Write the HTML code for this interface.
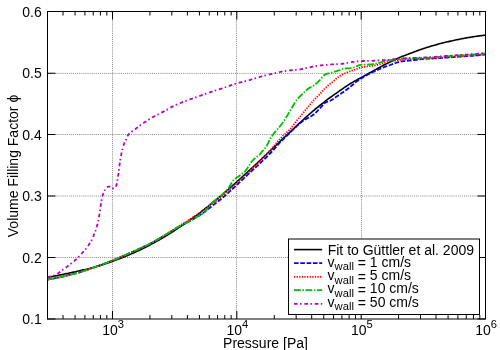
<!DOCTYPE html>
<html><head><meta charset="utf-8">
<style>
html,body{margin:0;padding:0;background:#fff;}
body{width:500px;height:350px;overflow:hidden;position:relative;}
svg{display:block;position:absolute;left:0;top:0;}
svg.t{will-change:transform;}
text{font-family:"Liberation Sans",sans-serif;font-size:14px;fill:#000;}
</style></head><body>
<svg width="500" height="350" viewBox="0 0 500 350">
<rect width="500" height="350" fill="#fff"/>
<g stroke="#888" stroke-width="1" stroke-dasharray="1 1.08" fill="none">
<line x1="48.0" y1="257.50" x2="485.5" y2="257.50"/>
<line x1="48.0" y1="196.00" x2="485.5" y2="196.00"/>
<line x1="48.0" y1="134.50" x2="485.5" y2="134.50"/>
<line x1="48.0" y1="73.40" x2="485.5" y2="73.40"/>
<line x1="112.50" y1="12.0" x2="112.50" y2="319.0"/>
<line x1="236.50" y1="12.0" x2="236.50" y2="319.0"/>
<line x1="361.50" y1="12.0" x2="361.50" y2="319.0"/>
</g>
<g stroke="#000" stroke-width="1" fill="none">
<line x1="47.5" y1="319.00" x2="55.5" y2="319.00"/>
<line x1="485.5" y1="319.00" x2="477.5" y2="319.00"/>
<line x1="47.5" y1="257.50" x2="55.5" y2="257.50"/>
<line x1="485.5" y1="257.50" x2="477.5" y2="257.50"/>
<line x1="47.5" y1="196.00" x2="55.5" y2="196.00"/>
<line x1="485.5" y1="196.00" x2="477.5" y2="196.00"/>
<line x1="47.5" y1="134.50" x2="55.5" y2="134.50"/>
<line x1="485.5" y1="134.50" x2="477.5" y2="134.50"/>
<line x1="47.5" y1="73.25" x2="55.5" y2="73.25"/>
<line x1="485.5" y1="73.25" x2="477.5" y2="73.25"/>
<line x1="47.5" y1="11.50" x2="55.5" y2="11.50"/>
<line x1="485.5" y1="11.50" x2="477.5" y2="11.50"/>
<line x1="63.02" y1="319.0" x2="63.02" y2="315.0"/>
<line x1="63.02" y1="11.5" x2="63.02" y2="15.5"/>
<line x1="75.07" y1="319.0" x2="75.07" y2="315.0"/>
<line x1="75.07" y1="11.5" x2="75.07" y2="15.5"/>
<line x1="84.92" y1="319.0" x2="84.92" y2="315.0"/>
<line x1="84.92" y1="11.5" x2="84.92" y2="15.5"/>
<line x1="93.24" y1="319.0" x2="93.24" y2="315.0"/>
<line x1="93.24" y1="11.5" x2="93.24" y2="15.5"/>
<line x1="100.45" y1="319.0" x2="100.45" y2="315.0"/>
<line x1="100.45" y1="11.5" x2="100.45" y2="15.5"/>
<line x1="106.81" y1="319.0" x2="106.81" y2="315.0"/>
<line x1="106.81" y1="11.5" x2="106.81" y2="15.5"/>
<line x1="112.50" y1="319.0" x2="112.50" y2="311.0"/>
<line x1="112.50" y1="11.5" x2="112.50" y2="19.5"/>
<line x1="149.93" y1="319.0" x2="149.93" y2="315.0"/>
<line x1="149.93" y1="11.5" x2="149.93" y2="15.5"/>
<line x1="171.82" y1="319.0" x2="171.82" y2="315.0"/>
<line x1="171.82" y1="11.5" x2="171.82" y2="15.5"/>
<line x1="187.36" y1="319.0" x2="187.36" y2="315.0"/>
<line x1="187.36" y1="11.5" x2="187.36" y2="15.5"/>
<line x1="199.41" y1="319.0" x2="199.41" y2="315.0"/>
<line x1="199.41" y1="11.5" x2="199.41" y2="15.5"/>
<line x1="209.25" y1="319.0" x2="209.25" y2="315.0"/>
<line x1="209.25" y1="11.5" x2="209.25" y2="15.5"/>
<line x1="217.57" y1="319.0" x2="217.57" y2="315.0"/>
<line x1="217.57" y1="11.5" x2="217.57" y2="15.5"/>
<line x1="224.78" y1="319.0" x2="224.78" y2="315.0"/>
<line x1="224.78" y1="11.5" x2="224.78" y2="15.5"/>
<line x1="231.14" y1="319.0" x2="231.14" y2="315.0"/>
<line x1="231.14" y1="11.5" x2="231.14" y2="15.5"/>
<line x1="236.83" y1="319.0" x2="236.83" y2="311.0"/>
<line x1="236.83" y1="11.5" x2="236.83" y2="19.5"/>
<line x1="274.26" y1="319.0" x2="274.26" y2="315.0"/>
<line x1="274.26" y1="11.5" x2="274.26" y2="15.5"/>
<line x1="296.16" y1="319.0" x2="296.16" y2="315.0"/>
<line x1="296.16" y1="11.5" x2="296.16" y2="15.5"/>
<line x1="311.69" y1="319.0" x2="311.69" y2="315.0"/>
<line x1="311.69" y1="11.5" x2="311.69" y2="15.5"/>
<line x1="323.74" y1="319.0" x2="323.74" y2="315.0"/>
<line x1="323.74" y1="11.5" x2="323.74" y2="15.5"/>
<line x1="333.58" y1="319.0" x2="333.58" y2="315.0"/>
<line x1="333.58" y1="11.5" x2="333.58" y2="15.5"/>
<line x1="341.91" y1="319.0" x2="341.91" y2="315.0"/>
<line x1="341.91" y1="11.5" x2="341.91" y2="15.5"/>
<line x1="349.12" y1="319.0" x2="349.12" y2="315.0"/>
<line x1="349.12" y1="11.5" x2="349.12" y2="15.5"/>
<line x1="355.48" y1="319.0" x2="355.48" y2="315.0"/>
<line x1="355.48" y1="11.5" x2="355.48" y2="15.5"/>
<line x1="361.17" y1="319.0" x2="361.17" y2="311.0"/>
<line x1="361.17" y1="11.5" x2="361.17" y2="19.5"/>
<line x1="398.59" y1="319.0" x2="398.59" y2="315.0"/>
<line x1="398.59" y1="11.5" x2="398.59" y2="15.5"/>
<line x1="420.49" y1="319.0" x2="420.49" y2="315.0"/>
<line x1="420.49" y1="11.5" x2="420.49" y2="15.5"/>
<line x1="436.02" y1="319.0" x2="436.02" y2="315.0"/>
<line x1="436.02" y1="11.5" x2="436.02" y2="15.5"/>
<line x1="448.07" y1="319.0" x2="448.07" y2="315.0"/>
<line x1="448.07" y1="11.5" x2="448.07" y2="15.5"/>
<line x1="457.92" y1="319.0" x2="457.92" y2="315.0"/>
<line x1="457.92" y1="11.5" x2="457.92" y2="15.5"/>
<line x1="466.24" y1="319.0" x2="466.24" y2="315.0"/>
<line x1="466.24" y1="11.5" x2="466.24" y2="15.5"/>
<line x1="473.45" y1="319.0" x2="473.45" y2="315.0"/>
<line x1="473.45" y1="11.5" x2="473.45" y2="15.5"/>
<line x1="479.81" y1="319.0" x2="479.81" y2="315.0"/>
<line x1="479.81" y1="11.5" x2="479.81" y2="15.5"/>
</g>
<g fill="none" stroke-linejoin="round">
<path d="M47.50,277.41 L48.50,277.21 L49.50,277.02 L50.50,276.83 L51.50,276.64 L52.50,276.44 L53.50,276.25 L54.50,276.05 L55.50,275.86 L56.50,275.66 L57.50,275.46 L58.50,275.26 L59.50,275.06 L60.50,274.86 L61.50,274.66 L62.50,274.46 L63.50,274.25 L64.50,274.05 L65.50,273.84 L66.50,273.63 L67.50,273.42 L68.50,273.21 L69.50,273.00 L70.50,272.78 L71.50,272.57 L72.50,272.35 L73.50,272.13 L74.50,271.91 L75.50,271.69 L76.50,271.46 L77.50,271.24 L78.50,271.02 L79.50,270.80 L80.50,270.57 L81.50,270.35 L82.50,270.13 L83.50,269.90 L84.50,269.68 L85.50,269.45 L86.50,269.21 L87.50,268.98 L88.50,268.74 L89.50,268.49 L90.50,268.24 L91.50,267.98 L92.50,267.72 L93.50,267.44 L94.50,267.17 L95.50,266.88 L96.50,266.59 L97.50,266.29 L98.50,265.99 L99.50,265.68 L100.50,265.37 L101.50,265.05 L102.50,264.72 L103.50,264.40 L104.50,264.07 L105.50,263.73 L106.50,263.40 L107.50,263.06 L108.50,262.71 L109.50,262.37 L110.50,262.02 L111.50,261.67 L112.50,261.32 L113.50,260.96 L114.50,260.60 L115.50,260.23 L116.50,259.86 L117.50,259.49 L118.50,259.11 L119.50,258.73 L120.50,258.35 L121.50,257.96 L122.50,257.56 L123.50,257.17 L124.50,256.76 L125.50,256.36 L126.50,255.95 L127.50,255.53 L128.50,255.11 L129.50,254.68 L130.50,254.26 L131.50,253.82 L132.50,253.38 L133.50,252.94 L134.50,252.49 L135.50,252.04 L136.50,251.58 L137.50,251.11 L138.50,250.65 L139.50,250.17 L140.50,249.70 L141.50,249.21 L142.50,248.73 L143.50,248.23 L144.50,247.74 L145.50,247.24 L146.50,246.73 L147.50,246.22 L148.50,245.70 L149.50,245.18 L150.50,244.66 L151.50,244.13 L152.50,243.59 L153.50,243.05 L154.50,242.51 L155.50,241.96 L156.50,241.40 L157.50,240.85 L158.50,240.28 L159.50,239.72 L160.50,239.14 L161.50,238.57 L162.50,237.98 L163.50,237.39 L164.50,236.80 L165.50,236.20 L166.50,235.60 L167.50,234.99 L168.50,234.37 L169.50,233.75 L170.50,233.13 L171.50,232.50 L172.50,231.86 L173.50,231.22 L174.50,230.58 L175.50,229.93 L176.50,229.27 L177.50,228.62 L178.50,227.95 L179.50,227.28 L180.50,226.61 L181.50,225.94 L182.50,225.26 L183.50,224.57 L184.50,223.88 L185.50,223.19 L186.50,222.49 L187.50,221.79 L188.50,221.08 L189.50,220.37 L190.50,219.66 L191.50,218.94 L192.50,218.22 L193.50,217.49 L194.50,216.76 L195.50,216.02 L196.50,215.28 L197.50,214.54 L198.50,213.78 L199.50,213.03 L200.50,212.27 L201.50,211.50 L202.50,210.73 L203.50,209.96 L204.50,209.18 L205.50,208.39 L206.50,207.61 L207.50,206.81 L208.50,206.02 L209.50,205.21 L210.50,204.41 L211.50,203.60 L212.50,202.78 L213.50,201.97 L214.50,201.14 L215.50,200.32 L216.50,199.49 L217.50,198.65 L218.50,197.81 L219.50,196.97 L220.50,196.13 L221.50,195.28 L222.50,194.42 L223.50,193.57 L224.50,192.71 L225.50,191.84 L226.50,190.98 L227.50,190.11 L228.50,189.23 L229.50,188.35 L230.50,187.47 L231.50,186.59 L232.50,185.71 L233.50,184.82 L234.50,183.92 L235.50,183.03 L236.50,182.13 L237.50,181.23 L238.50,180.33 L239.50,179.43 L240.50,178.52 L241.50,177.61 L242.50,176.70 L243.50,175.78 L244.50,174.87 L245.50,173.95 L246.50,173.03 L247.50,172.11 L248.50,171.19 L249.50,170.26 L250.50,169.34 L251.50,168.41 L252.50,167.48 L253.50,166.55 L254.50,165.61 L255.50,164.67 L256.50,163.74 L257.50,162.80 L258.50,161.86 L259.50,160.91 L260.50,159.97 L261.50,159.02 L262.50,158.08 L263.50,157.13 L264.50,156.18 L265.50,155.23 L266.50,154.28 L267.50,153.33 L268.50,152.38 L269.50,151.43 L270.50,150.48 L271.50,149.53 L272.50,148.58 L273.50,147.63 L274.50,146.68 L275.50,145.73 L276.50,144.78 L277.50,143.83 L278.50,142.89 L279.50,141.94 L280.50,140.99 L281.50,140.05 L282.50,139.11 L283.50,138.16 L284.50,137.22 L285.50,136.28 L286.50,135.35 L287.50,134.41 L288.50,133.48 L289.50,132.55 L290.50,131.62 L291.50,130.68 L292.50,129.75 L293.50,128.81 L294.50,127.88 L295.50,126.94 L296.50,126.00 L297.50,125.07 L298.50,124.13 L299.50,123.20 L300.50,122.27 L301.50,121.34 L302.50,120.42 L303.50,119.50 L304.50,118.58 L305.50,117.67 L306.50,116.77 L307.50,115.87 L308.50,114.98 L309.50,114.10 L310.50,113.23 L311.50,112.36 L312.50,111.50 L313.50,110.66 L314.50,109.82 L315.50,108.99 L316.50,108.17 L317.50,107.35 L318.50,106.53 L319.50,105.72 L320.50,104.92 L321.50,104.12 L322.50,103.33 L323.50,102.54 L324.50,101.76 L325.50,100.98 L326.50,100.21 L327.50,99.46 L328.50,98.71 L329.50,97.98 L330.50,97.26 L331.50,96.55 L332.50,95.84 L333.50,95.14 L334.50,94.45 L335.50,93.75 L336.50,93.05 L337.50,92.35 L338.50,91.65 L339.50,90.94 L340.50,90.24 L341.50,89.54 L342.50,88.84 L343.50,88.15 L344.50,87.46 L345.50,86.78 L346.50,86.11 L347.50,85.45 L348.50,84.79 L349.50,84.15 L350.50,83.53 L351.50,82.92 L352.50,82.34 L353.50,81.76 L354.50,81.19 L355.50,80.63 L356.50,80.10 L357.50,79.58 L358.50,79.08 L359.50,78.57 L360.50,78.05 L361.50,77.51 L362.50,76.93 L363.50,76.35 L364.50,75.78 L365.50,75.21 L366.50,74.64 L367.50,74.08 L368.50,73.52 L369.50,72.96 L370.50,72.40 L371.50,71.85 L372.50,71.30 L373.50,70.75 L374.50,70.20 L375.50,69.66 L376.50,69.11 L377.50,68.57 L378.50,68.02 L379.50,67.47 L380.50,66.93 L381.50,66.38 L382.50,65.85 L383.50,65.31 L384.50,64.78 L385.50,64.26 L386.50,63.74 L387.50,63.23 L388.50,62.73 L389.50,62.24 L390.50,61.74 L391.50,61.26 L392.50,60.77 L393.50,60.29 L394.50,59.82 L395.50,59.36 L396.50,58.90 L397.50,58.45 L398.50,58.00 L399.50,57.57 L400.50,57.14 L401.50,56.73 L402.50,56.33 L403.50,55.93 L404.50,55.54 L405.50,55.16 L406.50,54.79 L407.50,54.41 L408.50,54.05 L409.50,53.68 L410.50,53.31 L411.50,52.95 L412.50,52.58 L413.50,52.21 L414.50,51.84 L415.50,51.46 L416.50,51.09 L417.50,50.71 L418.50,50.34 L419.50,49.97 L420.50,49.60 L421.50,49.24 L422.50,48.89 L423.50,48.54 L424.50,48.21 L425.50,47.89 L426.50,47.57 L427.50,47.25 L428.50,46.95 L429.50,46.64 L430.50,46.34 L431.50,46.04 L432.50,45.75 L433.50,45.47 L434.50,45.18 L435.50,44.90 L436.50,44.63 L437.50,44.36 L438.50,44.09 L439.50,43.82 L440.50,43.56 L441.50,43.31 L442.50,43.05 L443.50,42.80 L444.50,42.55 L445.50,42.31 L446.50,42.07 L447.50,41.83 L448.50,41.60 L449.50,41.36 L450.50,41.13 L451.50,40.91 L452.50,40.68 L453.50,40.46 L454.50,40.25 L455.50,40.03 L456.50,39.82 L457.50,39.62 L458.50,39.41 L459.50,39.21 L460.50,39.01 L461.50,38.82 L462.50,38.63 L463.50,38.44 L464.50,38.25 L465.50,38.07 L466.50,37.89 L467.50,37.72 L468.50,37.55 L469.50,37.38 L470.50,37.21 L471.50,37.05 L472.50,36.89 L473.50,36.74 L474.50,36.58 L475.50,36.44 L476.50,36.30 L477.50,36.16 L478.50,36.02 L479.50,35.89 L480.50,35.76 L481.50,35.63 L482.50,35.51 L483.50,35.39 L484.50,35.27 L485.50,35.16" stroke="#000" stroke-width="1.6"/>
<path d="M47.50,279.51 L48.50,279.35 L49.50,279.19 L50.50,279.02 L51.50,278.85 L52.50,278.67 L53.50,278.49 L54.50,278.30 L55.50,278.10 L56.50,277.91 L57.50,277.70 L58.50,277.50 L59.50,277.28 L60.50,277.07 L61.50,276.85 L62.50,276.62 L63.50,276.40 L64.50,276.16 L65.50,275.93 L66.50,275.69 L67.50,275.45 L68.50,275.20 L69.50,274.95 L70.50,274.70 L71.50,274.45 L72.50,274.19 L73.50,273.93 L74.50,273.67 L75.50,273.41 L76.50,273.14 L77.50,272.86 L78.50,272.58 L79.50,272.28 L80.50,271.98 L81.50,271.66 L82.50,271.34 L83.50,271.02 L84.50,270.69 L85.50,270.35 L86.50,270.01 L87.50,269.67 L88.50,269.32 L89.50,268.97 L90.50,268.62 L91.50,268.27 L92.50,267.93 L93.50,267.58 L94.50,267.23 L95.50,266.89 L96.50,266.54 L97.50,266.18 L98.50,265.83 L99.50,265.47 L100.50,265.12 L101.50,264.75 L102.50,264.39 L103.50,264.02 L104.50,263.65 L105.50,263.28 L106.50,262.90 L107.50,262.52 L108.50,262.13 L109.50,261.74 L110.50,261.35 L111.50,260.95 L112.50,260.54 L113.50,260.14 L114.50,259.72 L115.50,259.31 L116.50,258.88 L117.50,258.46 L118.50,258.03 L119.50,257.60 L120.50,257.17 L121.50,256.73 L122.50,256.29 L123.50,255.86 L124.50,255.41 L125.50,254.97 L126.50,254.53 L127.50,254.08 L128.50,253.64 L129.50,253.19 L130.50,252.75 L131.50,252.30 L132.50,251.86 L133.50,251.42 L134.50,250.98 L135.50,250.53 L136.50,250.09 L137.50,249.64 L138.50,249.19 L139.50,248.74 L140.50,248.29 L141.50,247.83 L142.50,247.37 L143.50,246.90 L144.50,246.43 L145.50,245.95 L146.50,245.47 L147.50,244.98 L148.50,244.48 L149.50,243.97 L150.50,243.46 L151.50,242.94 L152.50,242.41 L153.50,241.86 L154.50,241.31 L155.50,240.76 L156.50,240.19 L157.50,239.62 L158.50,239.04 L159.50,238.46 L160.50,237.87 L161.50,237.28 L162.50,236.69 L163.50,236.10 L164.50,235.50 L165.50,234.91 L166.50,234.31 L167.50,233.72 L168.50,233.12 L169.50,232.53 L170.50,231.94 L171.50,231.35 L172.50,230.74 L173.50,230.13 L174.50,229.52 L175.50,228.91 L176.50,228.29 L177.50,227.69 L178.50,227.08 L179.50,226.49 L180.50,225.90 L181.50,225.33 L182.50,224.77 L183.50,224.23 L184.50,223.70 L185.50,223.18 L186.50,222.67 L187.50,222.16 L188.50,221.65 L189.50,221.13 L190.50,220.60 L191.50,220.06 L192.50,219.50 L193.50,218.94 L194.50,218.38 L195.50,217.80 L196.50,217.22 L197.50,216.62 L198.50,216.01 L199.50,215.37 L200.50,214.72 L201.50,214.04 L202.50,213.33 L203.50,212.61 L204.50,211.87 L205.50,211.11 L206.50,210.35 L207.50,209.57 L208.50,208.79 L209.50,208.01 L210.50,207.22 L211.50,206.44 L212.50,205.66 L213.50,204.89 L214.50,204.12 L215.50,203.35 L216.50,202.58 L217.50,201.81 L218.50,201.03 L219.50,200.24 L220.50,199.44 L221.50,198.64 L222.50,197.81 L223.50,196.98 L224.50,196.12 L225.50,195.25 L226.50,194.37 L227.50,193.47 L228.50,192.57 L229.50,191.66 L230.50,190.75 L231.50,189.83 L232.50,188.92 L233.50,188.00 L234.50,187.08 L235.50,186.16 L236.50,185.22 L237.50,184.29 L238.50,183.35 L239.50,182.40 L240.50,181.46 L241.50,180.51 L242.50,179.56 L243.50,178.61 L244.50,177.67 L245.50,176.72 L246.50,175.78 L247.50,174.84 L248.50,173.90 L249.50,172.96 L250.50,172.04 L251.50,171.12 L252.50,170.20 L253.50,169.29 L254.50,168.39 L255.50,167.48 L256.50,166.57 L257.50,165.66 L258.50,164.74 L259.50,163.81 L260.50,162.87 L261.50,161.92 L262.50,160.97 L263.50,160.02 L264.50,159.06 L265.50,158.10 L266.50,157.12 L267.50,156.14 L268.50,155.15 L269.50,154.14 L270.50,153.12 L271.50,152.08 L272.50,151.02 L273.50,149.91 L274.50,148.76 L275.50,147.59 L276.50,146.42 L277.50,145.25 L278.50,144.11 L279.50,143.00 L280.50,141.94 L281.50,140.92 L282.50,139.92 L283.50,138.93 L284.50,137.96 L285.50,137.00 L286.50,136.05 L287.50,135.09 L288.50,134.13 L289.50,133.15 L290.50,132.16 L291.50,131.17 L292.50,130.17 L293.50,129.18 L294.50,128.20 L295.50,127.23 L296.50,126.28 L297.50,125.35 L298.50,124.45 L299.50,123.59 L300.50,122.76 L301.50,121.97 L302.50,121.24 L303.50,120.56 L304.50,119.94 L305.50,119.35 L306.50,118.79 L307.50,118.24 L308.50,117.70 L309.50,117.14 L310.50,116.56 L311.50,115.95 L312.50,115.30 L313.50,114.58 L314.50,113.79 L315.50,112.88 L316.50,111.88 L317.50,110.83 L318.50,109.76 L319.50,108.71 L320.50,107.68 L321.50,106.55 L322.50,105.38 L323.50,104.26 L324.50,103.26 L325.50,102.48 L326.50,101.98 L327.50,101.66 L328.50,101.38 L329.50,101.04 L330.50,100.58 L331.50,100.04 L332.50,99.42 L333.50,98.76 L334.50,98.06 L335.50,97.35 L336.50,96.63 L337.50,95.94 L338.50,95.27 L339.50,94.61 L340.50,93.94 L341.50,93.28 L342.50,92.61 L343.50,91.93 L344.50,91.25 L345.50,90.53 L346.50,89.78 L347.50,89.01 L348.50,88.24 L349.50,87.46 L350.50,86.65 L351.50,85.81 L352.50,84.95 L353.50,84.07 L354.50,83.19 L355.50,82.37 L356.50,81.62 L357.50,80.88 L358.50,80.17 L359.50,79.50 L360.50,78.85 L361.50,78.22 L362.50,77.61 L363.50,77.02 L364.50,76.44 L365.50,75.87 L366.50,75.32 L367.50,74.78 L368.50,74.25 L369.50,73.73 L370.50,73.23 L371.50,72.75 L372.50,72.27 L373.50,71.80 L374.50,71.34 L375.50,70.88 L376.50,70.42 L377.50,69.96 L378.50,69.50 L379.50,69.05 L380.50,68.61 L381.50,68.19 L382.50,67.77 L383.50,67.37 L384.50,66.98 L385.50,66.60 L386.50,66.23 L387.50,65.89 L388.50,65.56 L389.50,65.23 L390.50,64.87 L391.50,64.48 L392.50,64.09 L393.50,63.71 L394.50,63.35 L395.50,62.99 L396.50,62.64 L397.50,62.32 L398.50,62.01 L399.50,61.74 L400.50,61.53 L401.50,61.38 L402.50,61.26 L403.50,61.14 L404.50,61.04 L405.50,60.95 L406.50,60.85 L407.50,60.76 L408.50,60.67 L409.50,60.58 L410.50,60.48 L411.50,60.38 L412.50,60.27 L413.50,60.14 L414.50,60.01 L415.50,59.88 L416.50,59.76 L417.50,59.63 L418.50,59.51 L419.50,59.38 L420.50,59.26 L421.50,59.14 L422.50,59.04 L423.50,58.94 L424.50,58.86 L425.50,58.80 L426.50,58.75 L427.50,58.70 L428.50,58.65 L429.50,58.60 L430.50,58.56 L431.50,58.53 L432.50,58.49 L433.50,58.46 L434.50,58.41 L435.50,58.34 L436.50,58.27 L437.50,58.20 L438.50,58.13 L439.50,58.07 L440.50,58.01 L441.50,57.95 L442.50,57.88 L443.50,57.82 L444.50,57.76 L445.50,57.69 L446.50,57.61 L447.50,57.53 L448.50,57.45 L449.50,57.37 L450.50,57.29 L451.50,57.21 L452.50,57.13 L453.50,57.05 L454.50,56.98 L455.50,56.90 L456.50,56.83 L457.50,56.76 L458.50,56.69 L459.50,56.62 L460.50,56.55 L461.50,56.49 L462.50,56.43 L463.50,56.36 L464.50,56.30 L465.50,56.24 L466.50,56.18 L467.50,56.11 L468.50,56.04 L469.50,55.98 L470.50,55.91 L471.50,55.84 L472.50,55.76 L473.50,55.69 L474.50,55.61 L475.50,55.52 L476.50,55.44 L477.50,55.35 L478.50,55.25 L479.50,55.15 L480.50,55.05 L481.50,54.94 L482.50,54.83 L483.50,54.72 L484.50,54.61 L485.50,54.50" stroke="#0000ff" stroke-width="1.8" stroke-dasharray="4.6 1.7"/>
<path d="M47.50,279.51 L48.50,279.35 L49.50,279.19 L50.50,279.02 L51.50,278.85 L52.50,278.67 L53.50,278.49 L54.50,278.30 L55.50,278.10 L56.50,277.91 L57.50,277.70 L58.50,277.50 L59.50,277.28 L60.50,277.07 L61.50,276.85 L62.50,276.62 L63.50,276.40 L64.50,276.16 L65.50,275.93 L66.50,275.69 L67.50,275.45 L68.50,275.20 L69.50,274.95 L70.50,274.70 L71.50,274.45 L72.50,274.19 L73.50,273.93 L74.50,273.67 L75.50,273.41 L76.50,273.14 L77.50,272.86 L78.50,272.58 L79.50,272.28 L80.50,271.98 L81.50,271.66 L82.50,271.34 L83.50,271.02 L84.50,270.69 L85.50,270.35 L86.50,270.01 L87.50,269.67 L88.50,269.32 L89.50,268.97 L90.50,268.62 L91.50,268.27 L92.50,267.93 L93.50,267.58 L94.50,267.23 L95.50,266.89 L96.50,266.54 L97.50,266.18 L98.50,265.83 L99.50,265.47 L100.50,265.12 L101.50,264.75 L102.50,264.39 L103.50,264.02 L104.50,263.65 L105.50,263.28 L106.50,262.90 L107.50,262.52 L108.50,262.13 L109.50,261.74 L110.50,261.35 L111.50,260.95 L112.50,260.54 L113.50,260.14 L114.50,259.72 L115.50,259.31 L116.50,258.88 L117.50,258.46 L118.50,258.03 L119.50,257.60 L120.50,257.17 L121.50,256.73 L122.50,256.29 L123.50,255.86 L124.50,255.41 L125.50,254.97 L126.50,254.53 L127.50,254.08 L128.50,253.64 L129.50,253.19 L130.50,252.75 L131.50,252.31 L132.50,251.86 L133.50,251.42 L134.50,250.98 L135.50,250.54 L136.50,250.09 L137.50,249.65 L138.50,249.20 L139.50,248.75 L140.50,248.30 L141.50,247.84 L142.50,247.38 L143.50,246.91 L144.50,246.44 L145.50,245.96 L146.50,245.48 L147.50,244.98 L148.50,244.48 L149.50,243.98 L150.50,243.46 L151.50,242.93 L152.50,242.39 L153.50,241.84 L154.50,241.28 L155.50,240.72 L156.50,240.14 L157.50,239.56 L158.50,238.97 L159.50,238.38 L160.50,237.78 L161.50,237.18 L162.50,236.57 L163.50,235.96 L164.50,235.36 L165.50,234.74 L166.50,234.12 L167.50,233.49 L168.50,232.85 L169.50,232.21 L170.50,231.56 L171.50,230.90 L172.50,230.25 L173.50,229.59 L174.50,228.94 L175.50,228.29 L176.50,227.64 L177.50,227.00 L178.50,226.37 L179.50,225.74 L180.50,225.12 L181.50,224.50 L182.50,223.88 L183.50,223.27 L184.50,222.65 L185.50,222.04 L186.50,221.42 L187.50,220.80 L188.50,220.17 L189.50,219.54 L190.50,218.90 L191.50,218.26 L192.50,217.62 L193.50,216.97 L194.50,216.32 L195.50,215.67 L196.50,215.01 L197.50,214.34 L198.50,213.67 L199.50,212.99 L200.50,212.30 L201.50,211.60 L202.50,210.90 L203.50,210.18 L204.50,209.46 L205.50,208.74 L206.50,208.00 L207.50,207.27 L208.50,206.53 L209.50,205.78 L210.50,205.04 L211.50,204.30 L212.50,203.55 L213.50,202.80 L214.50,202.05 L215.50,201.29 L216.50,200.53 L217.50,199.75 L218.50,198.96 L219.50,198.16 L220.50,197.34 L221.50,196.51 L222.50,195.66 L223.50,194.80 L224.50,193.93 L225.50,193.05 L226.50,192.16 L227.50,191.27 L228.50,190.36 L229.50,189.46 L230.50,188.55 L231.50,187.64 L232.50,186.74 L233.50,185.83 L234.50,184.93 L235.50,184.03 L236.50,183.13 L237.50,182.24 L238.50,181.34 L239.50,180.44 L240.50,179.55 L241.50,178.65 L242.50,177.74 L243.50,176.84 L244.50,175.92 L245.50,175.01 L246.50,174.09 L247.50,173.16 L248.50,172.22 L249.50,171.28 L250.50,170.32 L251.50,169.36 L252.50,168.39 L253.50,167.41 L254.50,166.42 L255.50,165.43 L256.50,164.43 L257.50,163.42 L258.50,162.41 L259.50,161.40 L260.50,160.38 L261.50,159.36 L262.50,158.34 L263.50,157.31 L264.50,156.28 L265.50,155.24 L266.50,154.19 L267.50,153.13 L268.50,152.07 L269.50,151.00 L270.50,149.91 L271.50,148.80 L272.50,147.67 L273.50,146.52 L274.50,145.37 L275.50,144.20 L276.50,143.04 L277.50,141.89 L278.50,140.74 L279.50,139.62 L280.50,138.52 L281.50,137.44 L282.50,136.40 L283.50,135.41 L284.50,134.48 L285.50,133.58 L286.50,132.69 L287.50,131.79 L288.50,130.85 L289.50,129.85 L290.50,128.76 L291.50,127.57 L292.50,126.28 L293.50,124.94 L294.50,123.58 L295.50,122.23 L296.50,120.93 L297.50,119.68 L298.50,118.45 L299.50,117.23 L300.50,116.02 L301.50,114.81 L302.50,113.59 L303.50,112.38 L304.50,111.16 L305.50,109.94 L306.50,108.72 L307.50,107.51 L308.50,106.30 L309.50,105.10 L310.50,103.90 L311.50,102.71 L312.50,101.54 L313.50,100.38 L314.50,99.32 L315.50,98.36 L316.50,97.39 L317.50,96.42 L318.50,95.45 L319.50,94.49 L320.50,93.41 L321.50,92.21 L322.50,91.05 L323.50,89.92 L324.50,88.83 L325.50,87.80 L326.50,86.82 L327.50,85.91 L328.50,85.05 L329.50,84.22 L330.50,83.41 L331.50,82.62 L332.50,81.84 L333.50,81.04 L334.50,80.19 L335.50,79.29 L336.50,78.42 L337.50,77.61 L338.50,76.86 L339.50,76.20 L340.50,75.57 L341.50,74.99 L342.50,74.46 L343.50,73.97 L344.50,73.54 L345.50,73.11 L346.50,72.69 L347.50,72.28 L348.50,71.90 L349.50,71.53 L350.50,71.17 L351.50,70.82 L352.50,70.47 L353.50,70.13 L354.50,69.78 L355.50,69.43 L356.50,69.06 L357.50,68.69 L358.50,68.32 L359.50,67.97 L360.50,67.66 L361.50,67.39 L362.50,67.18 L363.50,66.99 L364.50,66.82 L365.50,66.67 L366.50,66.53 L367.50,66.41 L368.50,66.28 L369.50,66.16 L370.50,66.04 L371.50,65.92 L372.50,65.78 L373.50,65.64 L374.50,65.48 L375.50,65.30 L376.50,65.10 L377.50,64.87 L378.50,64.62 L379.50,64.35 L380.50,64.07 L381.50,63.78 L382.50,63.49 L383.50,63.20 L384.50,62.91 L385.50,62.63 L386.50,62.36 L387.50,62.12 L388.50,61.89 L389.50,61.68 L390.50,61.50 L391.50,61.31 L392.50,61.13 L393.50,60.96 L394.50,60.79 L395.50,60.61 L396.50,60.43 L397.50,60.26 L398.50,60.10 L399.50,59.97 L400.50,59.87 L401.50,59.77 L402.50,59.69 L403.50,59.61 L404.50,59.54 L405.50,59.47 L406.50,59.40 L407.50,59.34 L408.50,59.28 L409.50,59.23 L410.50,59.18 L411.50,59.13 L412.50,59.08 L413.50,59.03 L414.50,58.99 L415.50,58.95 L416.50,58.92 L417.50,58.89 L418.50,58.86 L419.50,58.82 L420.50,58.79 L421.50,58.76 L422.50,58.72 L423.50,58.68 L424.50,58.64 L425.50,58.60 L426.50,58.55 L427.50,58.51 L428.50,58.46 L429.50,58.42 L430.50,58.36 L431.50,58.28 L432.50,58.21 L433.50,58.13 L434.50,58.06 L435.50,57.98 L436.50,57.91 L437.50,57.84 L438.50,57.76 L439.50,57.69 L440.50,57.61 L441.50,57.54 L442.50,57.47 L443.50,57.39 L444.50,57.32 L445.50,57.25 L446.50,57.18 L447.50,57.11 L448.50,57.03 L449.50,56.96 L450.50,56.89 L451.50,56.83 L452.50,56.76 L453.50,56.69 L454.50,56.63 L455.50,56.57 L456.50,56.51 L457.50,56.44 L458.50,56.38 L459.50,56.32 L460.50,56.26 L461.50,56.21 L462.50,56.15 L463.50,56.09 L464.50,56.03 L465.50,55.97 L466.50,55.91 L467.50,55.85 L468.50,55.78 L469.50,55.72 L470.50,55.65 L471.50,55.58 L472.50,55.51 L473.50,55.44 L474.50,55.36 L475.50,55.29 L476.50,55.20 L477.50,55.12 L478.50,55.03 L479.50,54.93 L480.50,54.83 L481.50,54.73 L482.50,54.62 L483.50,54.52 L484.50,54.41 L485.50,54.30" stroke="#ff0000" stroke-width="1.8" stroke-dasharray="1.3 1.3"/>
<path d="M47.50,279.51 L48.50,279.35 L49.50,279.19 L50.50,279.02 L51.50,278.85 L52.50,278.67 L53.50,278.49 L54.50,278.30 L55.50,278.10 L56.50,277.91 L57.50,277.70 L58.50,277.50 L59.50,277.28 L60.50,277.07 L61.50,276.85 L62.50,276.62 L63.50,276.40 L64.50,276.16 L65.50,275.93 L66.50,275.69 L67.50,275.45 L68.50,275.20 L69.50,274.95 L70.50,274.70 L71.50,274.45 L72.50,274.19 L73.50,273.93 L74.50,273.67 L75.50,273.41 L76.50,273.14 L77.50,272.86 L78.50,272.58 L79.50,272.28 L80.50,271.98 L81.50,271.66 L82.50,271.34 L83.50,271.02 L84.50,270.69 L85.50,270.35 L86.50,270.01 L87.50,269.67 L88.50,269.32 L89.50,268.97 L90.50,268.62 L91.50,268.27 L92.50,267.93 L93.50,267.58 L94.50,267.23 L95.50,266.89 L96.50,266.54 L97.50,266.18 L98.50,265.83 L99.50,265.47 L100.50,265.12 L101.50,264.75 L102.50,264.39 L103.50,264.02 L104.50,263.65 L105.50,263.28 L106.50,262.90 L107.50,262.52 L108.50,262.13 L109.50,261.74 L110.50,261.35 L111.50,260.95 L112.50,260.54 L113.50,260.14 L114.50,259.72 L115.50,259.31 L116.50,258.88 L117.50,258.46 L118.50,258.03 L119.50,257.60 L120.50,257.17 L121.50,256.73 L122.50,256.29 L123.50,255.86 L124.50,255.41 L125.50,254.97 L126.50,254.53 L127.50,254.08 L128.50,253.64 L129.50,253.19 L130.50,252.75 L131.50,252.31 L132.50,251.86 L133.50,251.42 L134.50,250.98 L135.50,250.54 L136.50,250.09 L137.50,249.65 L138.50,249.20 L139.50,248.75 L140.50,248.30 L141.50,247.84 L142.50,247.38 L143.50,246.91 L144.50,246.44 L145.50,245.96 L146.50,245.48 L147.50,244.98 L148.50,244.48 L149.50,243.98 L150.50,243.46 L151.50,242.93 L152.50,242.39 L153.50,241.83 L154.50,241.27 L155.50,240.69 L156.50,240.11 L157.50,239.53 L158.50,238.93 L159.50,238.34 L160.50,237.74 L161.50,237.14 L162.50,236.54 L163.50,235.94 L164.50,235.35 L165.50,234.75 L166.50,234.15 L167.50,233.54 L168.50,232.92 L169.50,232.30 L170.50,231.68 L171.50,231.06 L172.50,230.44 L173.50,229.82 L174.50,229.22 L175.50,228.62 L176.50,228.04 L177.50,227.46 L178.50,226.91 L179.50,226.37 L180.50,225.85 L181.50,225.34 L182.50,224.84 L183.50,224.34 L184.50,223.84 L185.50,223.35 L186.50,222.85 L187.50,222.34 L188.50,221.82 L189.50,221.29 L190.50,220.74 L191.50,220.19 L192.50,219.63 L193.50,219.05 L194.50,218.47 L195.50,217.88 L196.50,217.28 L197.50,216.67 L198.50,216.06 L199.50,215.48 L200.50,214.93 L201.50,214.36 L202.50,213.77 L203.50,213.11 L204.50,212.36 L205.50,211.49 L206.50,210.38 L207.50,208.66 L208.50,206.86 L209.50,205.49 L210.50,204.38 L211.50,203.38 L212.50,202.42 L213.50,201.52 L214.50,200.66 L215.50,199.84 L216.50,199.05 L217.50,198.26 L218.50,197.48 L219.50,196.68 L220.50,195.86 L221.50,195.00 L222.50,194.10 L223.50,193.22 L224.50,192.32 L225.50,191.39 L226.50,190.38 L227.50,189.27 L228.50,187.99 L229.50,186.42 L230.50,184.72 L231.50,183.05 L232.50,181.36 L233.50,180.18 L234.50,179.31 L235.50,178.57 L236.50,177.88 L237.50,177.15 L238.50,176.41 L239.50,175.70 L240.50,174.98 L241.50,174.22 L242.50,173.42 L243.50,172.61 L244.50,171.75 L245.50,170.78 L246.50,169.62 L247.50,168.07 L248.50,166.36 L249.50,164.79 L250.50,163.29 L251.50,161.90 L252.50,160.71 L253.50,159.65 L254.50,158.69 L255.50,157.80 L256.50,157.04 L257.50,156.37 L258.50,155.67 L259.50,154.80 L260.50,153.52 L261.50,152.10 L262.50,150.98 L263.50,150.05 L264.50,148.98 L265.50,147.57 L266.50,145.93 L267.50,144.18 L268.50,142.26 L269.50,140.21 L270.50,138.42 L271.50,136.84 L272.50,135.36 L273.50,133.96 L274.50,132.65 L275.50,131.42 L276.50,130.24 L277.50,129.10 L278.50,127.97 L279.50,126.82 L280.50,125.64 L281.50,124.40 L282.50,123.08 L283.50,121.65 L284.50,120.13 L285.50,118.54 L286.50,116.90 L287.50,115.22 L288.50,113.52 L289.50,111.83 L290.50,110.16 L291.50,108.49 L292.50,106.76 L293.50,105.03 L294.50,103.35 L295.50,101.75 L296.50,100.37 L297.50,99.15 L298.50,97.97 L299.50,96.85 L300.50,95.80 L301.50,94.77 L302.50,93.76 L303.50,92.79 L304.50,91.86 L305.50,91.00 L306.50,90.13 L307.50,89.26 L308.50,88.50 L309.50,87.85 L310.50,87.28 L311.50,86.76 L312.50,86.27 L313.50,85.70 L314.50,85.02 L315.50,84.19 L316.50,83.29 L317.50,82.34 L318.50,81.38 L319.50,80.39 L320.50,79.27 L321.50,78.07 L322.50,76.90 L323.50,75.83 L324.50,74.96 L325.50,74.34 L326.50,73.91 L327.50,73.59 L328.50,73.32 L329.50,73.09 L330.50,72.89 L331.50,72.62 L332.50,72.29 L333.50,71.95 L334.50,71.63 L335.50,71.34 L336.50,71.06 L337.50,70.78 L338.50,70.49 L339.50,70.16 L340.50,69.75 L341.50,69.30 L342.50,68.90 L343.50,68.61 L344.50,68.49 L345.50,68.42 L346.50,68.38 L347.50,68.34 L348.50,68.32 L349.50,68.29 L350.50,68.19 L351.50,68.00 L352.50,67.78 L353.50,67.52 L354.50,67.17 L355.50,66.74 L356.50,66.28 L357.50,65.81 L358.50,65.39 L359.50,65.06 L360.50,64.82 L361.50,64.69 L362.50,64.63 L363.50,64.59 L364.50,64.57 L365.50,64.55 L366.50,64.54 L367.50,64.53 L368.50,64.52 L369.50,64.51 L370.50,64.45 L371.50,64.33 L372.50,64.20 L373.50,64.05 L374.50,63.90 L375.50,63.73 L376.50,63.52 L377.50,63.27 L378.50,62.98 L379.50,62.67 L380.50,62.36 L381.50,62.08 L382.50,61.79 L383.50,61.50 L384.50,61.22 L385.50,60.95 L386.50,60.70 L387.50,60.48 L388.50,60.28 L389.50,60.13 L390.50,60.02 L391.50,59.91 L392.50,59.81 L393.50,59.71 L394.50,59.62 L395.50,59.49 L396.50,59.33 L397.50,59.19 L398.50,59.06 L399.50,58.95 L400.50,58.86 L401.50,58.79 L402.50,58.72 L403.50,58.66 L404.50,58.60 L405.50,58.55 L406.50,58.50 L407.50,58.45 L408.50,58.41 L409.50,58.37 L410.50,58.33 L411.50,58.29 L412.50,58.26 L413.50,58.22 L414.50,58.19 L415.50,58.16 L416.50,58.13 L417.50,58.11 L418.50,58.08 L419.50,58.05 L420.50,58.02 L421.50,57.98 L422.50,57.95 L423.50,57.91 L424.50,57.87 L425.50,57.83 L426.50,57.78 L427.50,57.74 L428.50,57.69 L429.50,57.64 L430.50,57.58 L431.50,57.50 L432.50,57.43 L433.50,57.35 L434.50,57.27 L435.50,57.19 L436.50,57.11 L437.50,57.03 L438.50,56.95 L439.50,56.87 L440.50,56.79 L441.50,56.72 L442.50,56.64 L443.50,56.56 L444.50,56.48 L445.50,56.40 L446.50,56.33 L447.50,56.25 L448.50,56.17 L449.50,56.10 L450.50,56.03 L451.50,55.95 L452.50,55.88 L453.50,55.82 L454.50,55.75 L455.50,55.68 L456.50,55.62 L457.50,55.55 L458.50,55.49 L459.50,55.42 L460.50,55.36 L461.50,55.30 L462.50,55.24 L463.50,55.17 L464.50,55.11 L465.50,55.05 L466.50,54.98 L467.50,54.92 L468.50,54.85 L469.50,54.78 L470.50,54.71 L471.50,54.64 L472.50,54.56 L473.50,54.49 L474.50,54.41 L475.50,54.32 L476.50,54.24 L477.50,54.15 L478.50,54.05 L479.50,53.95 L480.50,53.85 L481.50,53.74 L482.50,53.63 L483.50,53.52 L484.50,53.41 L485.50,53.30" stroke="#00c000" stroke-width="1.8" stroke-dasharray="6.8 1.6 1.5 1.55"/>
<path d="M47.50,277.20 L48.50,277.00 L49.50,276.75 L50.50,276.46 L51.50,276.15 L52.50,275.80 L53.50,275.44 L54.50,275.04 L55.50,274.58 L56.50,274.07 L57.50,273.52 L58.50,272.94 L59.50,272.28 L60.50,271.55 L61.50,270.78 L62.50,270.02 L63.50,269.29 L64.50,268.58 L65.50,267.86 L66.50,267.13 L67.50,266.37 L68.50,265.58 L69.50,264.78 L70.50,263.96 L71.50,263.16 L72.50,262.39 L73.50,261.61 L74.50,260.80 L75.50,259.93 L76.50,258.98 L77.50,257.98 L78.50,256.92 L79.50,255.85 L80.50,254.79 L81.50,253.73 L82.50,252.66 L83.50,251.57 L84.50,250.45 L85.50,249.28 L86.50,248.04 L87.50,246.74 L88.50,245.35 L89.50,243.87 L90.50,242.27 L91.50,240.45 L92.50,238.37 L93.50,236.04 L94.50,233.50 L95.50,230.72 L96.50,227.61 L97.50,224.03 L98.50,219.84 L99.50,213.95 L100.50,206.98 L101.50,200.72 L102.50,195.93 L103.50,192.83 L104.50,190.59 L105.50,189.08 L106.50,187.94 L107.50,187.02 L108.50,186.53 L109.50,186.62 L110.50,187.09 L111.50,187.70 L112.50,188.21 L113.50,188.40 L114.50,188.23 L115.50,187.71 L116.50,185.07 L117.50,180.23 L118.50,173.59 L119.50,165.06 L120.50,158.45 L121.50,153.36 L122.50,149.03 L123.50,145.32 L124.50,142.85 L125.50,140.92 L126.50,138.45 L127.50,136.07 L128.50,134.50 L129.50,133.40 L130.50,132.53 L131.50,131.81 L132.50,131.15 L133.50,130.48 L134.50,129.78 L135.50,128.97 L136.50,128.16 L137.50,127.37 L138.50,126.60 L139.50,125.85 L140.50,125.12 L141.50,124.41 L142.50,123.73 L143.50,123.04 L144.50,122.37 L145.50,121.72 L146.50,121.07 L147.50,120.44 L148.50,119.80 L149.50,119.17 L150.50,118.53 L151.50,117.90 L152.50,117.32 L153.50,116.79 L154.50,116.27 L155.50,115.75 L156.50,115.23 L157.50,114.72 L158.50,114.20 L159.50,113.68 L160.50,113.16 L161.50,112.64 L162.50,112.11 L163.50,111.58 L164.50,111.03 L165.50,110.48 L166.50,109.91 L167.50,109.35 L168.50,108.78 L169.50,108.22 L170.50,107.66 L171.50,107.12 L172.50,106.58 L173.50,106.07 L174.50,105.57 L175.50,105.10 L176.50,104.65 L177.50,104.21 L178.50,103.78 L179.50,103.37 L180.50,102.97 L181.50,102.57 L182.50,102.18 L183.50,101.80 L184.50,101.42 L185.50,101.04 L186.50,100.66 L187.50,100.29 L188.50,99.91 L189.50,99.54 L190.50,99.17 L191.50,98.81 L192.50,98.45 L193.50,98.09 L194.50,97.73 L195.50,97.38 L196.50,97.03 L197.50,96.68 L198.50,96.33 L199.50,95.98 L200.50,95.63 L201.50,95.28 L202.50,94.93 L203.50,94.58 L204.50,94.23 L205.50,93.88 L206.50,93.53 L207.50,93.19 L208.50,92.84 L209.50,92.50 L210.50,92.16 L211.50,91.82 L212.50,91.49 L213.50,91.15 L214.50,90.82 L215.50,90.49 L216.50,90.17 L217.50,89.84 L218.50,89.52 L219.50,89.20 L220.50,88.88 L221.50,88.55 L222.50,88.23 L223.50,87.90 L224.50,87.57 L225.50,87.24 L226.50,86.89 L227.50,86.54 L228.50,86.19 L229.50,85.83 L230.50,85.47 L231.50,85.12 L232.50,84.76 L233.50,84.41 L234.50,84.07 L235.50,83.74 L236.50,83.42 L237.50,83.12 L238.50,82.83 L239.50,82.55 L240.50,82.28 L241.50,82.03 L242.50,81.78 L243.50,81.53 L244.50,81.29 L245.50,81.04 L246.50,80.80 L247.50,80.55 L248.50,80.29 L249.50,80.03 L250.50,79.76 L251.50,79.47 L252.50,79.18 L253.50,78.88 L254.50,78.57 L255.50,78.26 L256.50,77.95 L257.50,77.64 L258.50,77.34 L259.50,77.03 L260.50,76.74 L261.50,76.45 L262.50,76.17 L263.50,75.91 L264.50,75.65 L265.50,75.39 L266.50,75.14 L267.50,74.90 L268.50,74.66 L269.50,74.42 L270.50,74.18 L271.50,73.95 L272.50,73.72 L273.50,73.48 L274.50,73.25 L275.50,73.02 L276.50,72.78 L277.50,72.54 L278.50,72.29 L279.50,72.05 L280.50,71.83 L281.50,71.65 L282.50,71.46 L283.50,71.28 L284.50,71.11 L285.50,70.95 L286.50,70.80 L287.50,70.66 L288.50,70.54 L289.50,70.43 L290.50,70.33 L291.50,70.25 L292.50,70.17 L293.50,70.10 L294.50,70.03 L295.50,69.96 L296.50,69.89 L297.50,69.82 L298.50,69.69 L299.50,69.50 L300.50,69.30 L301.50,69.10 L302.50,68.89 L303.50,68.67 L304.50,68.45 L305.50,68.22 L306.50,67.99 L307.50,67.76 L308.50,67.54 L309.50,67.32 L310.50,67.11 L311.50,66.90 L312.50,66.70 L313.50,66.51 L314.50,66.32 L315.50,66.15 L316.50,65.98 L317.50,65.81 L318.50,65.64 L319.50,65.51 L320.50,65.41 L321.50,65.32 L322.50,65.22 L323.50,65.13 L324.50,65.04 L325.50,64.95 L326.50,64.86 L327.50,64.77 L328.50,64.69 L329.50,64.61 L330.50,64.54 L331.50,64.47 L332.50,64.41 L333.50,64.34 L334.50,64.28 L335.50,64.22 L336.50,64.15 L337.50,64.09 L338.50,64.03 L339.50,63.96 L340.50,63.89 L341.50,63.81 L342.50,63.73 L343.50,63.65 L344.50,63.57 L345.50,63.42 L346.50,63.18 L347.50,62.93 L348.50,62.68 L349.50,62.43 L350.50,62.23 L351.50,62.09 L352.50,61.96 L353.50,61.82 L354.50,61.69 L355.50,61.57 L356.50,61.45 L357.50,61.34 L358.50,61.24 L359.50,61.15 L360.50,61.08 L361.50,61.03 L362.50,61.01 L363.50,60.99 L364.50,60.98 L365.50,60.97 L366.50,60.96 L367.50,60.96 L368.50,60.96 L369.50,60.96 L370.50,60.93 L371.50,60.88 L372.50,60.82 L373.50,60.76 L374.50,60.70 L375.50,60.63 L376.50,60.56 L377.50,60.49 L378.50,60.41 L379.50,60.33 L380.50,60.27 L381.50,60.24 L382.50,60.20 L383.50,60.17 L384.50,60.13 L385.50,60.08 L386.50,60.04 L387.50,60.00 L388.50,59.96 L389.50,59.86 L390.50,59.72 L391.50,59.57 L392.50,59.42 L393.50,59.27 L394.50,59.11 L395.50,59.00 L396.50,58.91 L397.50,58.83 L398.50,58.75 L399.50,58.68 L400.50,58.61 L401.50,58.54 L402.50,58.48 L403.50,58.42 L404.50,58.36 L405.50,58.31 L406.50,58.25 L407.50,58.20 L408.50,58.15 L409.50,58.10 L410.50,58.05 L411.50,58.00 L412.50,57.95 L413.50,57.90 L414.50,57.85 L415.50,57.81 L416.50,57.78 L417.50,57.74 L418.50,57.71 L419.50,57.67 L420.50,57.63 L421.50,57.59 L422.50,57.55 L423.50,57.51 L424.50,57.47 L425.50,57.43 L426.50,57.38 L427.50,57.34 L428.50,57.29 L429.50,57.24 L430.50,57.18 L431.50,57.10 L432.50,57.03 L433.50,56.95 L434.50,56.87 L435.50,56.79 L436.50,56.71 L437.50,56.63 L438.50,56.55 L439.50,56.47 L440.50,56.39 L441.50,56.32 L442.50,56.24 L443.50,56.16 L444.50,56.08 L445.50,56.00 L446.50,55.93 L447.50,55.85 L448.50,55.77 L449.50,55.70 L450.50,55.63 L451.50,55.55 L452.50,55.49 L453.50,55.42 L454.50,55.35 L455.50,55.28 L456.50,55.22 L457.50,55.16 L458.50,55.09 L459.50,55.03 L460.50,54.97 L461.50,54.91 L462.50,54.85 L463.50,54.79 L464.50,54.72 L465.50,54.66 L466.50,54.59 L467.50,54.53 L468.50,54.46 L469.50,54.39 L470.50,54.32 L471.50,54.25 L472.50,54.17 L473.50,54.09 L474.50,54.01 L475.50,53.93 L476.50,53.84 L477.50,53.74 L478.50,53.63 L479.50,53.53 L480.50,53.41 L481.50,53.29 L482.50,53.17 L483.50,53.05 L484.50,52.93 L485.50,52.80" stroke="#b800c0" stroke-width="1.8" stroke-dasharray="3.6 2.4 1.5 2.9"/>
</g>
<rect x="47.5" y="11.5" width="438.0" height="307.5" fill="none" stroke="#000" stroke-width="1"/>
<rect x="288.5" y="239" width="191" height="75.5" fill="#fff" stroke="#000" stroke-width="1"/>
<g fill="none" stroke-width="1.8">
<line x1="294" x2="322.2" y1="249.6" y2="249.6" stroke="#000" stroke-width="1.6"/>
<line x1="294" x2="322.2" y1="263.2" y2="263.2" stroke="#0000ff" stroke-dasharray="4.6 1.7"/>
<line x1="294" x2="322.2" y1="276.8" y2="276.8" stroke="#ff0000" stroke-dasharray="1.3 1.3"/>
<line x1="294" x2="322.2" y1="290.2" y2="290.2" stroke="#00c000" stroke-dasharray="6.8 1.6 1.5 1.55"/>
<line x1="294" x2="322.2" y1="303.9" y2="303.9" stroke="#b800c0" stroke-dasharray="3.6 2.4 1.5 2.9"/>
</g>
</svg>
<svg class="t" width="500" height="350" viewBox="0 0 500 350">
<g>
<text x="41.8" y="324.0" text-anchor="end">0.1</text>
<text x="41.8" y="262.5" text-anchor="end">0.2</text>
<text x="41.8" y="201.0" text-anchor="end">0.3</text>
<text x="41.8" y="139.5" text-anchor="end">0.4</text>
<text x="41.8" y="78.0" text-anchor="end">0.5</text>
<text x="41.8" y="16.5" text-anchor="end">0.6</text>
<text x="102.2" y="334.8">10<tspan dy="-7" font-size="11.2">3</tspan></text>
<text x="226.5" y="334.8">10<tspan dy="-7" font-size="11.2">4</tspan></text>
<text x="350.9" y="334.8">10<tspan dy="-7" font-size="11.2">5</tspan></text>
<text x="475.2" y="334.8">10<tspan dy="-7" font-size="11.2">6</tspan></text>
<text x="265.5" y="348.4" text-anchor="middle">Pressure [Pa]</text>
<text transform="translate(18.3,166) rotate(-90)" text-anchor="middle">Volume Filling Factor &#981;</text>
<text x="327.7" y="255.0">Fit to Güttler et al. 2009</text>
<text x="327.6" y="266.5">v<tspan dy="3.6" font-size="11.2">wall</tspan><tspan dy="-1.8"> =</tspan><tspan dy="-1.8"> 1 cm/s</tspan></text>
<text x="327.6" y="279.9">v<tspan dy="3.6" font-size="11.2">wall</tspan><tspan dy="-1.8"> =</tspan><tspan dy="-1.8"> 5 cm/s</tspan></text>
<text x="327.6" y="293.3">v<tspan dy="3.6" font-size="11.2">wall</tspan><tspan dy="-1.8"> =</tspan><tspan dy="-1.8"> 10 cm/s</tspan></text>
<text x="327.6" y="306.6">v<tspan dy="3.6" font-size="11.2">wall</tspan><tspan dy="-1.8"> =</tspan><tspan dy="-1.8"> 50 cm/s</tspan></text>
</g>
</svg>
</body></html>
